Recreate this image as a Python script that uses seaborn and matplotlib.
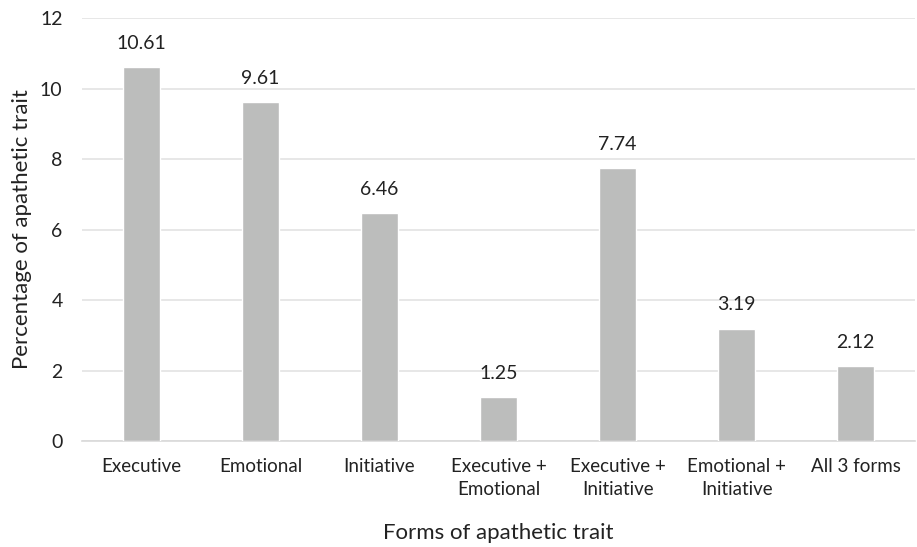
import matplotlib
matplotlib.use('Agg')
import matplotlib.pyplot as plt
import seaborn as sns
import pandas as pd

categories = ['Executive', 'Emotional', 'Initiative', 'Executive +\nEmotional',
              'Executive +\nInitiative', 'Emotional +\nInitiative', 'All 3 forms']
values = [10.61, 9.61, 6.46, 1.25, 7.74, 3.19, 2.12]
yticks = [0, 2, 4, 6, 8, 10, 12]

sns.set_theme(style='white')
plt.rcParams['font.family'] = ['Lato', 'DejaVu Sans']

df = pd.DataFrame({'form': categories, 'pct': values})

fig = plt.figure(figsize=(9.17, 5.47), dpi=100)
ax = fig.add_axes([0.0894, 0.1938, 0.9086, 0.7732])
sns.barplot(data=df, x='form', y='pct', color='#bcbdbc', saturation=1,
            width=0.31, ax=ax, zorder=3)

ax.set_ylim(0, 12)
ax.set_xlim(-0.5, 6.5)
ax.set_yticks(yticks)
ax.set_yticklabels([str(t) for t in yticks], fontsize=14, color='#222222')
for lbl in ax.get_xticklabels():
    lbl.set_linespacing(1.45)
ax.tick_params(axis='x', labelsize=13.5, labelcolor='#222222', length=0, pad=12)
ax.tick_params(axis='y', length=0, pad=14)
ax.yaxis.grid(True, color='#e3e3e3', linewidth=1.2, zorder=0)
for s in ['top', 'right', 'left']:
    ax.spines[s].set_visible(False)
ax.spines['bottom'].set_color('#d9d9d9')
ax.spines['bottom'].set_linewidth(1.2)

for i, v in enumerate(values):
    ax.annotate(f'{v:.2f}', (i, v), xytext=(0, 11), textcoords='offset points',
                ha='center', va='bottom', fontsize=14, color='#222222')

ax.set_xlabel('Forms of apathetic trait', fontsize=16, color='#222222', labelpad=18)
ax.set_ylabel('Percentage of apathetic trait', fontsize=16, color='#222222', labelpad=6)

fig.savefig('out.png', dpi=100)
